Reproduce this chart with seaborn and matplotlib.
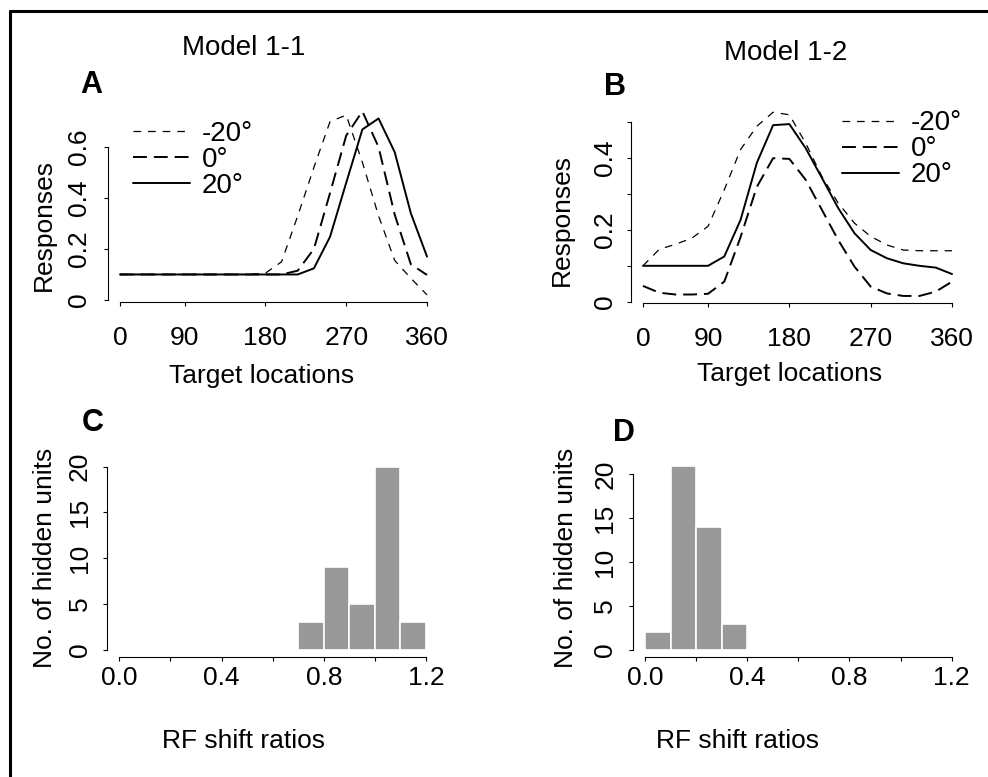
import numpy as np
import pandas as pd
import matplotlib
matplotlib.use("Agg")
import matplotlib.pyplot as plt
from matplotlib.lines import Line2D
import seaborn as sns

# ---- data -------------------------------------------------------------
# target location index (20 sampled locations spanning 0..360 deg)
unit_index = np.arange(1, 21)
loc_tick_index = [1, 5, 10, 15, 20]
loc_tick_labels = ["0", "90", "180", "270", "360"]

shift_labels = ["-20°", "0°", "20°"]

# Model 1-1 responses for the three eye positions
m11_minus20 = [0.10, 0.10, 0.10, 0.10, 0.10, 0.10, 0.10, 0.10, 0.10, 0.105,
               0.15, 0.33, 0.52, 0.70, 0.725, 0.54, 0.33, 0.155, 0.085, 0.02]
m11_zero = [0.10, 0.10, 0.10, 0.10, 0.10, 0.10, 0.10, 0.10, 0.10, 0.10,
            0.10, 0.115, 0.20, 0.42, 0.645, 0.74, 0.60, 0.335, 0.14, 0.098]
m11_plus20 = [0.10, 0.10, 0.10, 0.10, 0.10, 0.10, 0.10, 0.10, 0.10, 0.10,
              0.10, 0.10, 0.124, 0.248, 0.46, 0.669, 0.712, 0.58, 0.34, 0.17]

# Model 1-2 responses
m12_minus20 = [0.10, 0.146, 0.16, 0.177, 0.21, 0.312, 0.424, 0.489, 0.528, 0.521,
               0.442, 0.349, 0.275, 0.219, 0.182, 0.158, 0.144, 0.142, 0.142, 0.142]
m12_zero = [0.044, 0.025, 0.02, 0.02, 0.022, 0.056, 0.18, 0.32, 0.40, 0.398,
            0.34, 0.256, 0.172, 0.098, 0.042, 0.023, 0.016, 0.016, 0.028, 0.056]
m12_plus20 = [0.10, 0.10, 0.10, 0.10, 0.10, 0.126, 0.228, 0.387, 0.492, 0.495,
              0.428, 0.345, 0.261, 0.191, 0.144, 0.121, 0.107, 0.10, 0.095, 0.077]

# RF shift ratio histograms (bin edges and counts)
c_edges = [0.7, 0.8, 0.9, 1.0, 1.1, 1.2]
c_counts = [3, 9, 5, 20, 3]
d_edges = [0.0, 0.1, 0.2, 0.3, 0.4]
d_counts = [2, 21, 14, 3]

ratio_ticks = [0.0, 0.2, 0.4, 0.6, 0.8, 1.0, 1.2]
ratio_tick_labels = ["0.0", "", "0.4", "", "0.8", "", "1.2"]
count_ticks = [0, 5, 10, 15, 20]

# ---- style ------------------------------------------------------------
sns.set_theme(style="ticks")
plt.rcParams["font.family"] = ["Liberation Sans", "DejaVu Sans"]
plt.rcParams["lines.scale_dashes"] = False
plt.rcParams["axes.linewidth"] = 0.8
for key in ("text.color", "axes.labelcolor", "xtick.color", "ytick.color",
            "axes.edgecolor"):
    plt.rcParams[key] = "black"

W, H = 988, 777
fig = plt.figure(figsize=(W / 100, H / 100), dpi=100)
fig.patch.set_facecolor("white")


def box(l, t, r, b):
    return [l / W, 1 - b / H, (r - l) / W, (b - t) / H]


def ftext(x, y, s, **kw):
    fig.text(x / W, 1 - y / H, s, color="black", **kw)


TICK_FS = 19
LAB_FS = 19

line_styles = {
    "-20°": dict(lw=0.9, dashes=(5.5, 5)),
    "0°": dict(lw=1.4, dashes=(10, 5)),
    "20°": dict(lw=1.4, dashes=None),
}


def style_axes(ax, xb, yb, xpad, ypad):
    sns.despine(ax=ax)
    ax.spines["left"].set_bounds(*yb)
    ax.spines["bottom"].set_bounds(*xb)
    for s in ("left", "bottom"):
        ax.spines[s].set_color("black")
        ax.spines[s].set_linewidth(0.8)
    ax.tick_params(axis="both", direction="out", length=3, width=0.8,
                   color="black", labelsize=TICK_FS, labelcolor="black")
    ax.tick_params(axis="x", pad=xpad)
    ax.tick_params(axis="y", pad=ypad, labelrotation=90)
    plt.setp(ax.get_yticklabels(), va="center")
    ax.set_xlabel("")
    ax.set_ylabel("")
    ax.set_facecolor("white")
    ax.grid(False)


def response_panel(ax, series, legend_xy):
    for name, vals in zip(shift_labels, series):
        st = line_styles[name]
        sns.lineplot(x=unit_index, y=vals, ax=ax, color="black",
                     lw=st["lw"], label=name)
        if st["dashes"] is not None:
            ax.lines[-1].set_dashes(st["dashes"])
    ax.set_xlim(1 - 0.04 * 19, 20 + 0.04 * 19)
    ax.set_xticks(loc_tick_index)
    ax.set_xticklabels(loc_tick_labels)
    leg = ax.legend(loc="upper left",
                    bbox_to_anchor=(legend_xy[0] / W, 1 - legend_xy[1] / H),
                    bbox_transform=fig.transFigure, frameon=False,
                    fontsize=20, handlelength=2.05, handletextpad=0.43,
                    labelspacing=0.0, borderpad=0, borderaxespad=0)
    for h in leg.legend_handles:
        h.set_color("black")
    for t in leg.get_texts():
        t.set_color("black")


# ---- panel A ----------------------------------------------------------
axA = fig.add_axes(box(107.7, 104, 439.3, 302.2))
response_panel(axA, [m11_minus20, m11_zero, m11_plus20], (133, 121))
axA.set_ylim(-0.0088, 0.7688)
axA.set_yticks([0, 0.2, 0.4, 0.6])
axA.set_yticklabels(["0", "0.2", "0.4", "0.6"])
style_axes(axA, (1, 20), (0, 0.6), 14, 9)

# ---- panel B ----------------------------------------------------------
axB = fig.add_axes(box(630.6, 104.9, 964.4, 303.3))
response_panel(axB, [m12_minus20, m12_zero, m12_plus20], (841.7, 110.5))
axB.set_ylim(-0.0045, 0.5485)
axB.set_yticks([0, 0.1, 0.2, 0.3, 0.4, 0.5])
axB.set_yticklabels(["0", "", "0.2", "", "0.4", ""])
style_axes(axB, (1, 20), (0, 0.5), 14, 7)


# ---- histograms -------------------------------------------------------
def hist_panel(ax, edges, counts, ylim):
    e = np.asarray(edges, dtype=float)
    table = pd.DataFrame({"ratio": (e[:-1] + e[1:]) / 2, "units": counts})
    sns.histplot(data=table, x="ratio", weights="units", bins=list(edges),
                 ax=ax, color="#999999", edgecolor="white", linewidth=1.2,
                 alpha=1)
    ax.set_xlim(-0.048, 1.248)
    ax.set_ylim(*ylim)
    ax.set_xticks(ratio_ticks)
    ax.set_xticklabels(ratio_tick_labels)
    ax.set_yticks(count_ticks)
    ax.set_yticklabels([str(v) for v in count_ticks])


axC = fig.add_axes(box(107, 459.3, 438.3, 657.3))
hist_panel(axC, c_edges, c_counts, (-0.8, 20.8))
style_axes(axC, (0, 1.2), (0, 20), 3, 8)

axD = fig.add_axes(box(632.7, 458.2, 964, 657.4))
hist_panel(axD, d_edges, d_counts, (-0.84, 21.84))
style_axes(axD, (0, 1.2), (0, 20), 3, 8)

# ---- titles, panel letters and axis labels ----------------------------
ftext(244, 55, "Model 1-1", fontsize=20, ha="center", va="baseline")
ftext(785.5, 59.5, "Model 1-2", fontsize=20, ha="center", va="baseline")

for x, y, s in [(91, 93, "A"), (615, 95, "B"), (93, 431, "C"), (624, 441, "D")]:
    ftext(x, y, s, fontsize=22, fontweight="bold", ha="center", va="baseline")

ftext(262, 383, "Target locations", fontsize=LAB_FS, ha="center", va="baseline")
ftext(790, 381, "Target locations", fontsize=LAB_FS, ha="center", va="baseline")
ftext(243, 748, "RF shift ratios", fontsize=LAB_FS, ha="center", va="baseline")
ftext(737, 748, "RF shift ratios", fontsize=LAB_FS, ha="center", va="baseline")

ftext(44, 225, "Responses", fontsize=LAB_FS, rotation=90, ha="center", va="center")
ftext(562, 220, "Responses", fontsize=LAB_FS, rotation=90, ha="center", va="center")
ftext(45, 558, "No. of hidden units", fontsize=LAB_FS, rotation=90, ha="center", va="center")
ftext(566, 558, "No. of hidden units", fontsize=LAB_FS, rotation=90, ha="center", va="center")

# ---- frame lines along the top and left edges -------------------------
fig.add_artist(Line2D([10 / W, 1], [1 - 11 / H, 1 - 11 / H],
                      transform=fig.transFigure, color="black", lw=2.2))
fig.add_artist(Line2D([10 / W, 10 / W], [0, 1 - 11 / H],
                      transform=fig.transFigure, color="black", lw=2.2))

fig.savefig("out.png", dpi=100, facecolor="white")
